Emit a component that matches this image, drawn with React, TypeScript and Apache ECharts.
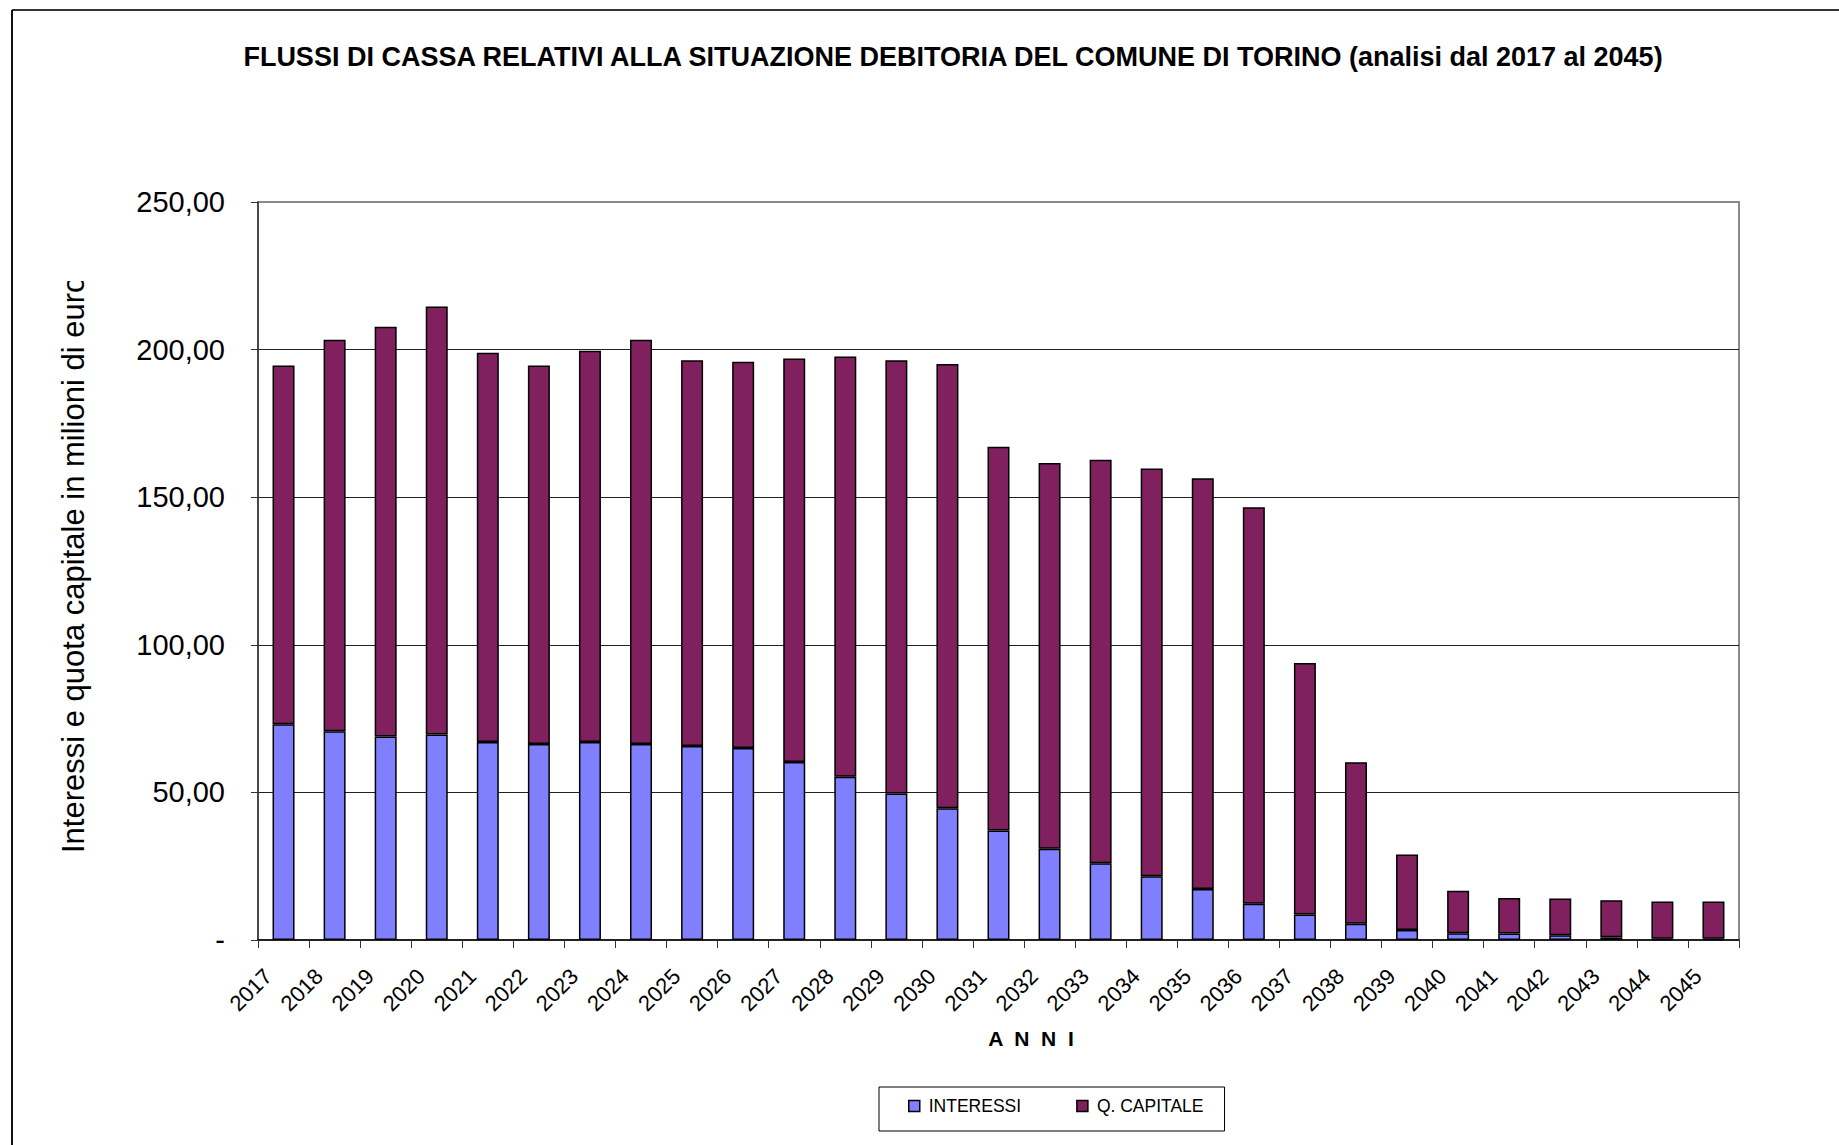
import React, { useEffect, useRef } from "react";
import * as echarts from "echarts";

const YEARS = ["2017","2018","2019","2020","2021","2022","2023","2024","2025","2026","2027","2028","2029","2030","2031","2032","2033","2034","2035","2036","2037","2038","2039","2040","2041","2042","2043","2044","2045"];
const INTERESSI = [73.1,70.7,68.9,69.6,67.1,66.4,67.1,66.4,65.7,65.0,60.3,55.3,49.6,44.6,37.1,30.9,26.0,21.6,17.3,12.3,8.6,5.5,3.4,2.3,2.2,1.6,0.9,0.4,0.4];
const CAPITALE = [121.5,132.6,138.8,145.0,131.8,128.2,132.5,136.9,130.7,130.9,136.7,142.4,146.8,150.5,130.0,130.7,136.7,138.1,139.1,134.3,85.2,54.7,25.6,14.4,12.0,12.5,12.6,12.6,12.6];
const Y_TICKS = [0, 50, 100, 150, 200, 250];

const TITLE = "FLUSSI DI CASSA RELATIVI ALLA SITUAZIONE DEBITORIA DEL COMUNE DI TORINO (analisi dal 2017 al 2045)";
const Y_NAME = "Interessi e quota capitale in milioni di euro";
const X_NAME = "A  N  N  I";
const SERIES_NAMES = ["INTERESSI", "Q. CAPITALE"];

const SANS = "'Liberation Sans', Arial, sans-serif";
const NARROW = "'Liberation Sans Narrow', 'Liberation Sans', Arial, sans-serif";

export default function App() {
  const ref = useRef<HTMLDivElement>(null);
  useEffect(() => {
    if (!ref.current) return;
    const chart = echarts.init(ref.current, undefined, { renderer: "svg" });
    const fmt = (v: number) => (v === 0 ? "-" : v.toFixed(2).replace(".", ","));
    chart.setOption({
      animation: false,
      backgroundColor: "#ffffff",
      grid: {
        left: 258,
        top: 202,
        width: 1481,
        height: 738,
        show: true,
        borderColor: "#8a8a8a",
        borderWidth: 2,
        backgroundColor: "transparent",
      },
      legend: {
        left: 879,
        top: 1087,
        orient: "horizontal",
        padding: [7, 21, 13, 29],
        itemGap: 55,
        itemWidth: 11,
        itemHeight: 11,
        icon: "rect",
        borderColor: "#000",
        borderWidth: 1,
        itemStyle: { borderColor: "#000", borderWidth: 1.5 },
        textStyle: { fontSize: 17.5, fontFamily: NARROW, color: "#000", padding: [0, 0, 0, 4], lineHeight: 24 },
        data: SERIES_NAMES,
      },
      xAxis: {
        type: "category",
        data: YEARS,
        boundaryGap: true,
        axisLine: { show: true, lineStyle: { color: "#000", width: 1.5 } },
        axisTick: { show: true, inside: false, length: 8, alignWithLabel: false, lineStyle: { color: "#333" } },
        axisLabel: {
          rotate: 45,
          interval: 0,
          fontSize: 22,
          fontFamily: SANS,
          color: "#000",
          margin: 17,
          padding: [0, 22, 0, 0],
        },
        splitLine: { show: false },
      },
      yAxis: {
        type: "value",
        min: 0,
        max: 250,
        interval: 50,
        axisLine: { show: true, lineStyle: { color: "#333", width: 1.5 } },
        axisTick: { show: true, inside: false, length: 7, lineStyle: { color: "#333" } },
        axisLabel: {
          fontSize: 29,
          fontFamily: SANS,
          color: "#000",
          margin: 33,
          formatter: (v: number) => (Y_TICKS.indexOf(v) >= 0 ? fmt(v) : ""),
        },
        splitLine: { show: true, showMinLine: false, showMaxLine: false, lineStyle: { color: "#222", width: 1 } },
      },
      series: [
        {
          name: SERIES_NAMES[0],
          type: "bar",
          stack: "tot",
          data: INTERESSI,
          barWidth: 22,
          itemStyle: { color: "#8080ff", borderColor: "#000", borderWidth: 1.5 },
        },
        {
          name: SERIES_NAMES[1],
          type: "bar",
          stack: "tot",
          data: CAPITALE,
          barWidth: 22,
          itemStyle: { color: "#80205f", borderColor: "#000", borderWidth: 1.5 },
        },
      ],
      graphic: [
        { type: "line", shape: { x1: 12, y1: 10, x2: 1839, y2: 10 }, style: { stroke: "#333", lineWidth: 2 }, z: 100 },
        { type: "line", shape: { x1: 12, y1: 10, x2: 12, y2: 1145 }, style: { stroke: "#111", lineWidth: 2 }, z: 100 },
        {
          type: "text",
          x: 953,
          y: 57,
          style: { text: TITLE, fontSize: 27, fontWeight: "bold", fontFamily: SANS, fill: "#000", textAlign: "center", textVerticalAlign: "middle" },
        },
        {
          type: "text",
          x: 73,
          y: 853,
          rotation: Math.PI / 2,
          style: { text: Y_NAME, fontSize: 31, fontFamily: SANS, fill: "#000", textAlign: "left", textVerticalAlign: "middle" },
          z: 10,
        },
        { type: "rect", shape: { x: 40, y: 20, width: 70, height: 261 }, style: { fill: "#fff" }, z: 20 },
        {
          type: "text",
          x: 1031,
          y: 1038,
          style: { text: X_NAME, fontSize: 21, fontWeight: "bold", fontFamily: SANS, fill: "#000", textAlign: "center", textVerticalAlign: "middle" },
        },
      ],
    });
    return () => chart.dispose();
  }, []);
  return <div ref={ref} style={{ position: "fixed", left: 0, top: 0, width: 1839, height: 1145 }} />;
}
